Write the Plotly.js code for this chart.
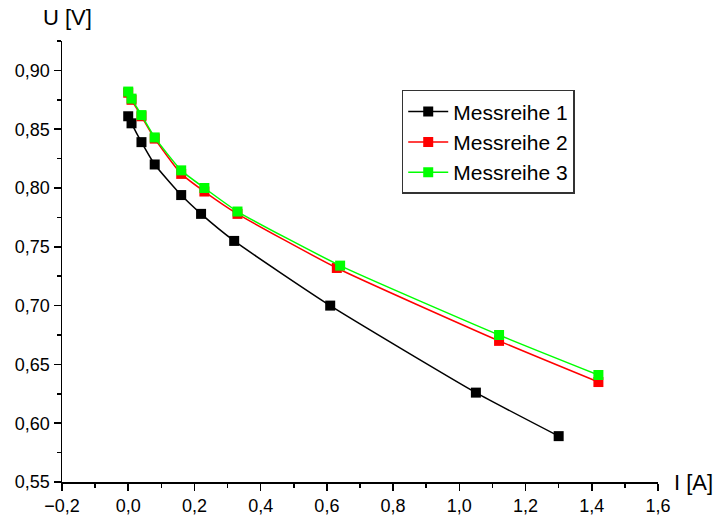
<!DOCTYPE html>
<html>
<head>
<meta charset="utf-8">
<script src="https://cdn.plot.ly/plotly-3.0.1.min.js"></script>
<style>html,body{margin:0;padding:0;background:#fff;}#chart{width:715px;height:518px;}</style>
</head>
<body>
<div id="chart"></div>
<script>
// Messreihe 1
const current1 = [0.0, 0.01, 0.04, 0.08, 0.16, 0.22, 0.32, 0.61, 1.05, 1.30];
const voltage1 = [0.861, 0.855, 0.839, 0.820, 0.794, 0.778, 0.755, 0.700, 0.626, 0.589];
// Messreihe 2
const current2 = [0.0, 0.01, 0.04, 0.08, 0.16, 0.23, 0.33, 0.63, 1.12, 1.42];
const voltage2 = [0.881, 0.875, 0.861, 0.842, 0.812, 0.797, 0.778, 0.732, 0.670, 0.635];
// Messreihe 3
const current3 = [0.0, 0.01, 0.04, 0.08, 0.16, 0.23, 0.33, 0.64, 1.12, 1.42];
const voltage3 = [0.882, 0.876, 0.862, 0.843, 0.815, 0.800, 0.780, 0.734, 0.675, 0.641];

const seriesNames = ["Messreihe 1", "Messreihe 2", "Messreihe 3"];
const seriesColors = ["#000000", "#ff0000", "#00ff00"];

const xs = [current1, current2, current3];
const ys = [voltage1, voltage2, voltage3];

const traces = xs.map((x, i) => ({
  x: x,
  y: ys[i],
  name: seriesNames[i],
  type: "scatter",
  mode: "lines+markers",
  line: {color: seriesColors[i], width: 1.5, shape: "spline", smoothing: 0.5},
  marker: {symbol: "square", size: 10, color: seriesColors[i]}
}));

const font = {family: "Liberation Sans, Arial, sans-serif", color: "#000"};

const layout = {
  width: 715, height: 518,
  margin: {l: 62, r: 57, t: 41, b: 36},
  paper_bgcolor: "#fff", plot_bgcolor: "#fff",
  separators: ", ",
  showlegend: true,
  font: Object.assign({size: 18}, font),
  xaxis: {
    range: [-0.2, 1.6], dtick: 0.2, tick0: -0.2, tickformat: ".1f",
    showgrid: false, zeroline: false, showline: true, linecolor: "#000", linewidth: 1.5,
    ticks: "outside", ticklen: 7, tickwidth: 1.5, tickcolor: "#000",
    minor: {dtick: 0.1, ticks: "outside", ticklen: 4, tickwidth: 1.5, tickcolor: "#000"},
    tickfont: Object.assign({size: 18}, font)
  },
  yaxis: {
    range: [0.55, 0.925], dtick: 0.05, tick0: 0.55, tickformat: ".2f",
    showgrid: false, zeroline: false, showline: true, linecolor: "#000", linewidth: 1.5,
    ticks: "outside", ticklen: 7, tickwidth: 1.5, tickcolor: "#000",
    minor: {dtick: 0.025, ticks: "outside", ticklen: 4, tickwidth: 1.5, tickcolor: "#000"},
    tickfont: Object.assign({size: 18}, font)
  },
  legend: {
    x: 0.57, y: 0.889, xanchor: "left", yanchor: "top",
    bordercolor: "#333", borderwidth: 1.5, bgcolor: "#fff",
    font: Object.assign({size: 21}, font),
    tracegroupgap: 0, itemwidth: 40
  },
  annotations: [
    {text: "U [V]", xref: "paper", yref: "paper", x: -0.035, y: 1.0, yshift: 24, xanchor: "left", yanchor: "middle", showarrow: false, font: Object.assign({size: 22}, font)},
    {text: "I [A]", xref: "paper", yref: "paper", x: 1.0, y: 0, xshift: 14, yanchor: "middle", xanchor: "left", showarrow: false, font: Object.assign({size: 22}, font)}
  ]
};

Plotly.newPlot("chart", traces, layout, {displayModeBar: false, staticPlot: true});
</script>
</body>
</html>
